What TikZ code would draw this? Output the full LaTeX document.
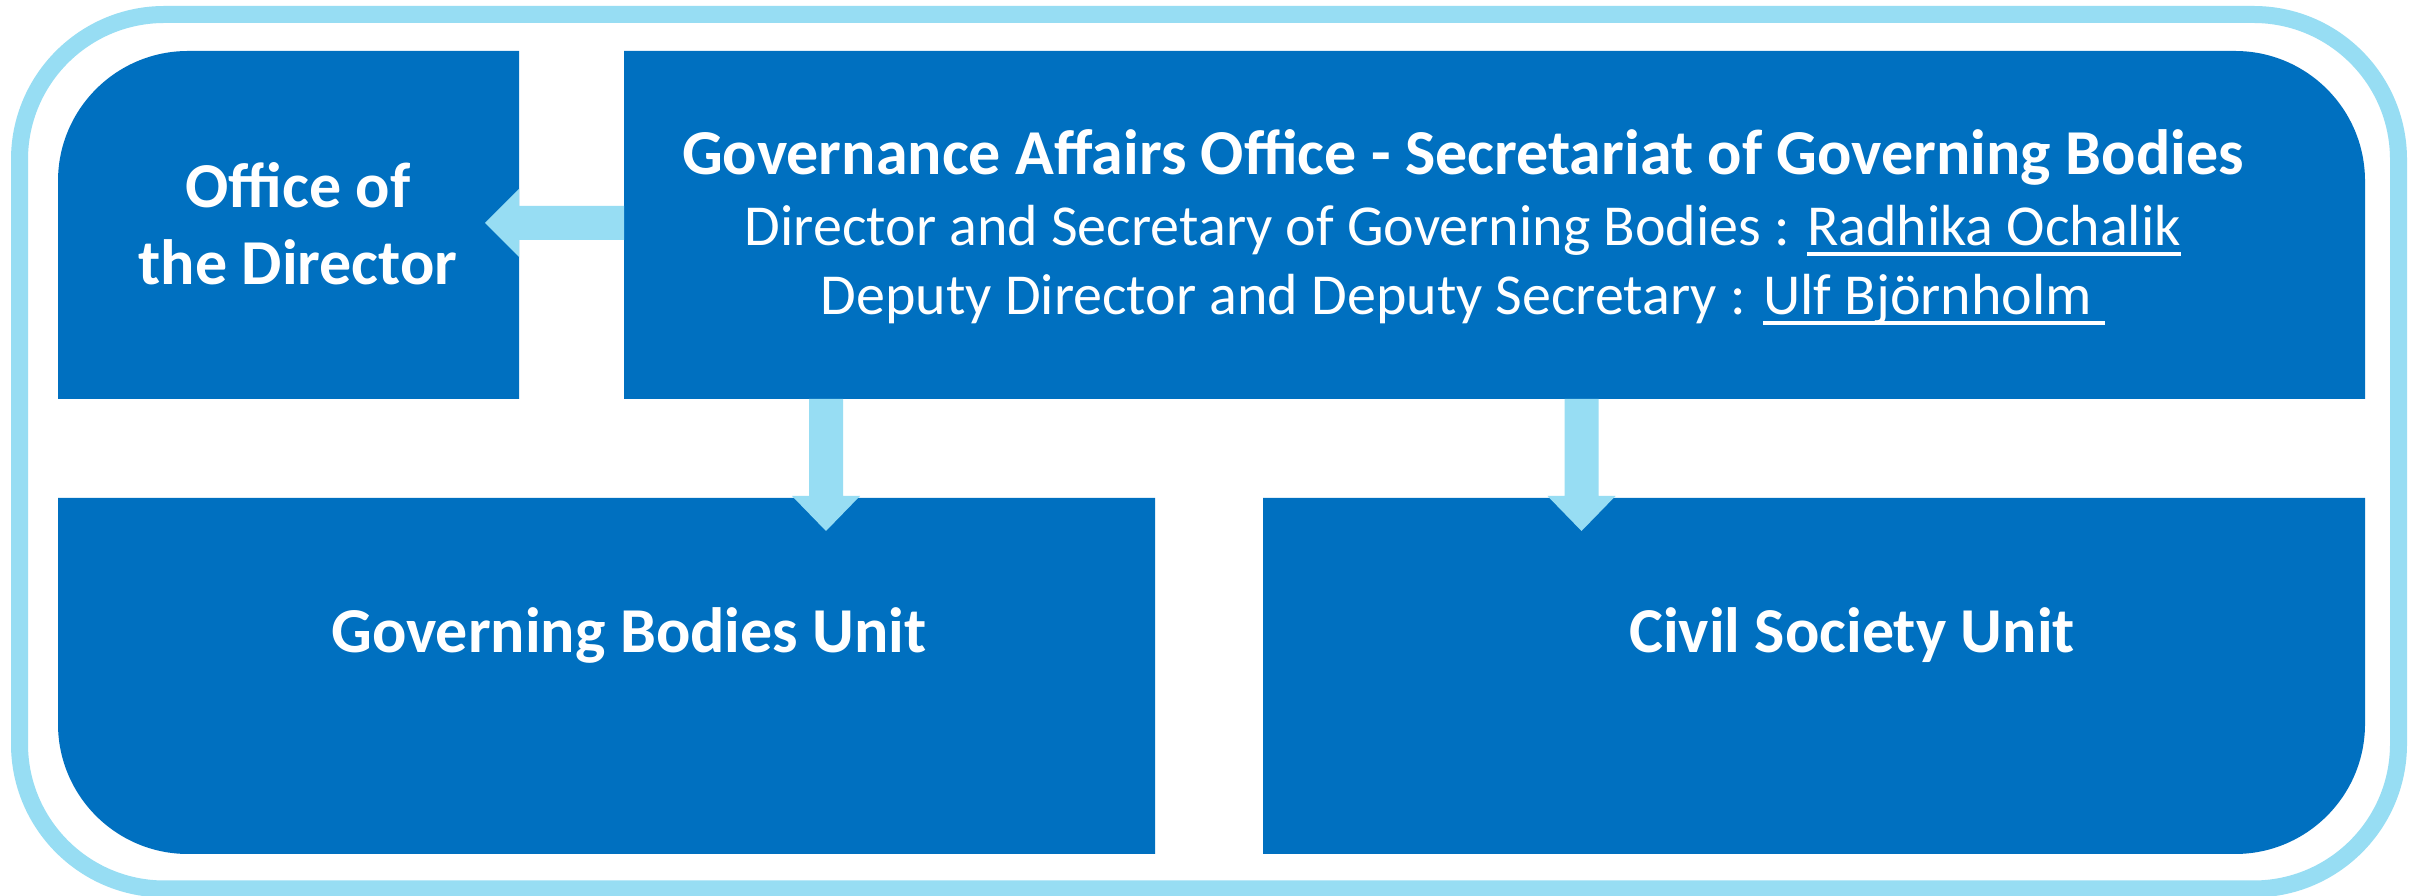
\documentclass[tikz,border=0pt]{standalone}
\usepackage{fontspec}
\setmainfont{Carlito}
\usetikzlibrary{calc}

\newcommand{\nameul}[1]{\setbox0\hbox{#1}\rlap{\rule[-10pt]{\wd0}{3.5pt}}\box0}

\begin{document}
\begin{tikzpicture}[x=1pt,y=1pt]
\definecolor{boxColor}{RGB}{0,112,192}
\definecolor{arrowColor}{RGB}{151,221,243}
\definecolor{textColor}{RGB}{255,255,255}
\tikzset{
  unitlabel/.style={text=textColor,anchor=base,inner sep=0pt,outer sep=0pt,font=\fontsize{64}{77}\selectfont\bfseries},
  namelabel/.style={text=textColor,anchor=base,inner sep=0pt,outer sep=0pt,font=\fontsize{58}{69}\selectfont}
}
\path[use as bounding box,fill=white] (0,0) rectangle (2418,896);

% outer frame
\path[draw=arrowColor,line width=17pt,rounded corners=145pt] (19.5,7) rectangle (2398.5,881.5);

% boxes
\path[fill=boxColor] (58,497) -- (519,497) -- (519,845) -- (188,845) arc[start angle=90,end angle=180,radius=130] -- cycle;
\path[fill=boxColor] (624,497) -- (2365,497) -- (2365,715) arc[start angle=0,end angle=90,radius=130] -- (624,845) -- cycle;
\path[fill=boxColor] (188,42) -- (1155,42) -- (1155,398) -- (58,398) -- (58,172) arc[start angle=180,end angle=270,radius=130] -- cycle;
\path[fill=boxColor] (1263,42) -- (2235,42) arc[start angle=270,end angle=360,radius=130] -- (2365,398) -- (1263,398) -- cycle;

% arrow end points
\coordinate (gaoW) at (624,673);
\coordinate (officeE) at (519,673);
\coordinate (gaoS1) at (826,497);
\coordinate (gbuN) at (826,398);
\coordinate (gaoS2) at (1581.5,497);
\coordinate (csuN) at (1581.5,398);

\path[fill=arrowColor] ($(gaoW)+(0,17)$) -- ($(officeE)+(0,17)$) -- ($(officeE)+(0,34)$) -- ($(officeE)+(-34,0)$) -- ($(officeE)+(0,-34)$) -- ($(officeE)+(0,-17)$) -- ($(gaoW)+(0,-17)$) -- cycle;
\path[fill=arrowColor] ($(gaoS1)+(-17,0)$) -- ($(gbuN)+(-17,2)$) -- ($(gbuN)+(-34,2)$) -- ($(gbuN)+(0,-33)$) -- ($(gbuN)+(34,2)$) -- ($(gbuN)+(17,2)$) -- ($(gaoS1)+(17,0)$) -- cycle;
\path[fill=arrowColor] ($(gaoS2)+(-17,0)$) -- ($(csuN)+(-17,2)$) -- ($(csuN)+(-34,2)$) -- ($(csuN)+(0,-33)$) -- ($(csuN)+(34,2)$) -- ($(csuN)+(17,2)$) -- ($(gaoS2)+(17,0)$) -- cycle;

% labels
\node[unitlabel,align=center] (officeText) at (298,611) {Office of\\the Director};
\node[unitlabel] (gaoTitle) at (1463,721) {Governance Affairs Office - Secretariat of Governing Bodies};
\node[namelabel] (gaoDirector) at (1463,650) {Director and Secretary of Governing Bodies : \nameul{Radhika Ochalik}};
\node[namelabel] (gaoDeputy) at (1463,581) {Deputy Director and Deputy Secretary : \nameul{Ulf Björnholm\ }};
\node[unitlabel] (gbuText) at (629,243) {Governing Bodies Unit};
\node[unitlabel] (csuText) at (1852,243) {Civil Society Unit};
\end{tikzpicture}
\end{document}
